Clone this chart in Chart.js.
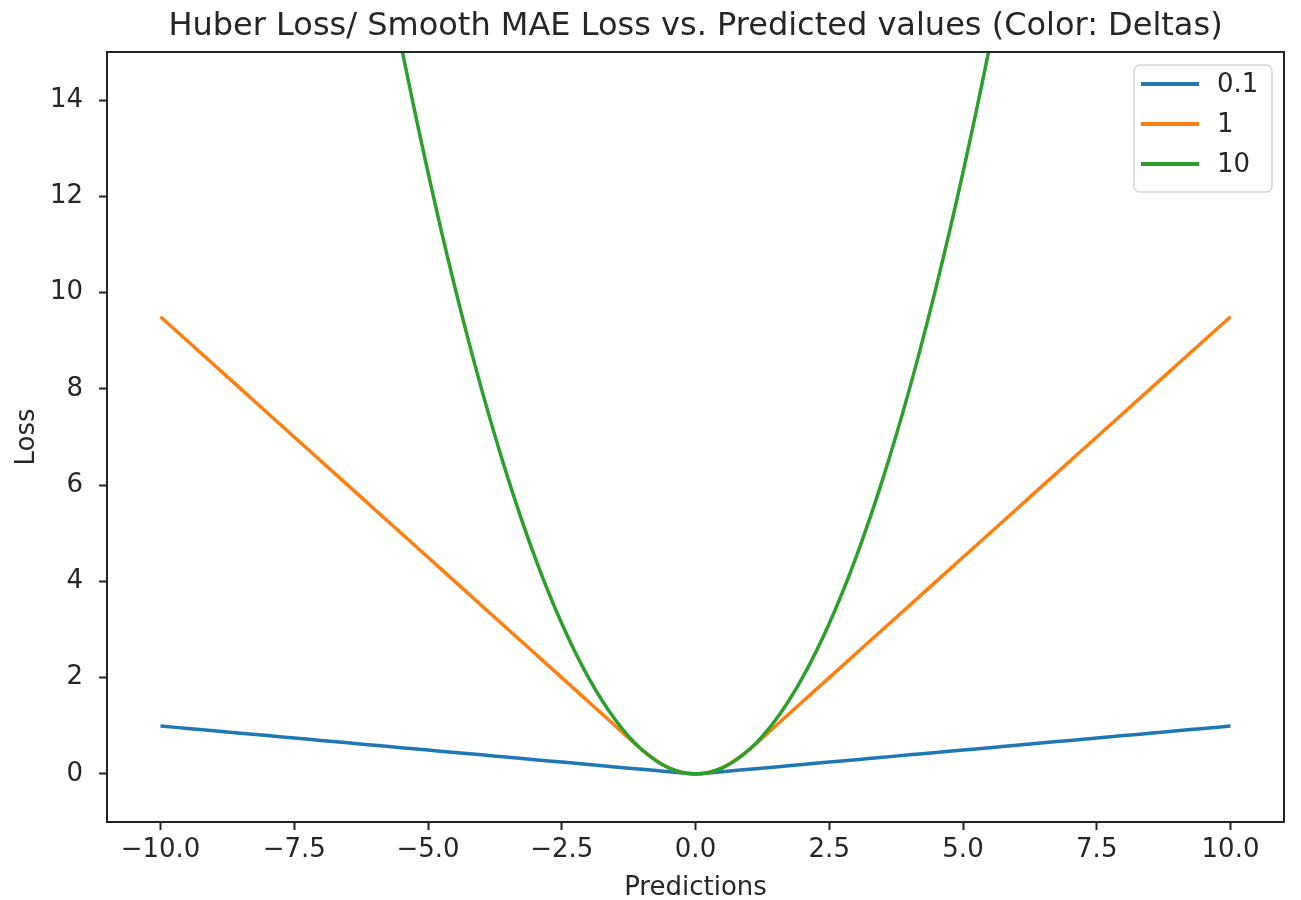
<!DOCTYPE html>
<html>
<head>
<meta charset="utf-8">
<script src="https://cdn.jsdelivr.net/npm/chart.js@4/dist/chart.umd.min.js"></script>
<style>
  html, body { margin: 0; padding: 0; background: #fff; }
  #wrap { width: 1301px; height: 900px; }
</style>
</head>
<body>
<div id="wrap"><canvas id="lossChart" width="1301" height="900"></canvas></div>
<script>
// values
const predictions = [-10, -9.5, -9, -8.5, -8, -7.5, -7, -6.5, -6, -5.5, -5, -4.5, -4, -3.5, -3, -2.5, -2, -1.5, -1, -0.5,
  0, 0.5, 1, 1.5, 2, 2.5, 3, 3.5, 4, 4.5, 5, 5.5, 6, 6.5, 7, 7.5, 8, 8.5, 9, 9.5, 10];

const deltaLabels = ['0.1', '1', '10'];
const lossDelta01 = [0.995, 0.945, 0.895, 0.845, 0.795, 0.745, 0.695, 0.645, 0.595, 0.545, 0.495, 0.445, 0.395, 0.345, 0.295, 0.245, 0.195, 0.145, 0.095, 0.045,
  0, 0.045, 0.095, 0.145, 0.195, 0.245, 0.295, 0.345, 0.395, 0.445, 0.495, 0.545, 0.595, 0.645, 0.695, 0.745, 0.795, 0.845, 0.895, 0.945, 0.995];
const lossDelta1 = [9.5, 9.0, 8.5, 8.0, 7.5, 7.0, 6.5, 6.0, 5.5, 5.0, 4.5, 4.0, 3.5, 3.0, 2.5, 2.0, 1.5, 1.0, 0.5, 0.125,
  0, 0.125, 0.5, 1.0, 1.5, 2.0, 2.5, 3.0, 3.5, 4.0, 4.5, 5.0, 5.5, 6.0, 6.5, 7.0, 7.5, 8.0, 8.5, 9.0, 9.5];
const lossDelta10 = [null, null, null, null, null, null, null, null, 18, 15.125, 12.5, 10.125, 8, 6.125, 4.5, 3.125, 2, 1.125, 0.5, 0.125,
  0, 0.125, 0.5, 1.125, 2, 3.125, 4.5, 6.125, 8, 10.125, 12.5, 15.125, 18, null, null, null, null, null, null, null, null];

const xTicks = [-10, -7.5, -5, -2.5, 0, 2.5, 5, 7.5, 10];
const yTicks = [0, 2, 4, 6, 8, 10, 12, 14];
const colors = ['#1f77b4', '#ff7f0e', '#2ca02c'];

const FONT = "'DejaVu Sans', sans-serif";
const TEXT = '#262626';

function toPoints(values) {
  return predictions.map((x, i) => ({ x: x, y: values[i] }));
}

function fmtTick(v, digits) {
  const s = Math.abs(v).toFixed(digits);
  return v < 0 ? '\u2212' + s : s;
}

// frame, title and legend drawn like matplotlib
const mplDecor = {
  id: 'mplDecor',
  afterDatasetsDraw(chart) {
    const { ctx, chartArea: a } = chart;
    ctx.save();
    ctx.strokeStyle = '#222';
    ctx.lineWidth = 2;
    ctx.strokeRect(a.left, a.top, a.right - a.left, a.bottom - a.top);

    ctx.fillStyle = TEXT;
    ctx.font = '32px ' + FONT;
    ctx.textAlign = 'center';
    ctx.textBaseline = 'alphabetic';
    ctx.fillText('Huber Loss/ Smooth MAE Loss vs. Predicted values (Color: Deltas)', (a.left + a.right) / 2, 35);

    // legend box
    const bx = 1134, by = 65, bw = 138, bh = 127, r = 6;
    ctx.beginPath();
    ctx.moveTo(bx + r, by);
    ctx.arcTo(bx + bw, by, bx + bw, by + bh, r);
    ctx.arcTo(bx + bw, by + bh, bx, by + bh, r);
    ctx.arcTo(bx, by + bh, bx, by, r);
    ctx.arcTo(bx, by, bx + bw, by, r);
    ctx.closePath();
    ctx.fillStyle = 'rgba(255,255,255,0.8)';
    ctx.fill();
    ctx.strokeStyle = '#d6d6d6';
    ctx.lineWidth = 1.5;
    ctx.stroke();

    ctx.font = '26px ' + FONT;
    ctx.textAlign = 'left';
    ctx.textBaseline = 'middle';
    chart.data.datasets.forEach((ds, i) => {
      const y = 84 + i * 40;
      ctx.strokeStyle = ds.borderColor;
      ctx.lineWidth = 4;
      ctx.beginPath();
      ctx.moveTo(1141, y);
      ctx.lineTo(1199, y);
      ctx.stroke();
      ctx.fillStyle = TEXT;
      ctx.fillText(ds.label, 1217, y + 1);
    });
    ctx.restore();
  }
};

new Chart(document.getElementById('lossChart'), {
  type: 'line',
  data: {
    datasets: [lossDelta01, lossDelta1, lossDelta10].map((vals, i) => ({
      label: deltaLabels[i],
      data: toPoints(vals),
      borderColor: colors[i],
      backgroundColor: colors[i],
      borderWidth: 3.5,
      pointRadius: 0,
      fill: false,
      order: 2 - i, // later series on top, as in matplotlib
      cubicInterpolationMode: 'monotone',
      spanGaps: false
    }))
  },
  options: {
    responsive: false,
    animation: false,
    devicePixelRatio: 1,
    layout: { padding: { top: 52, right: 17, left: 0, bottom: 0 } },
    plugins: {
      legend: { display: false },
      title: { display: false },
      tooltip: { enabled: false }
    },
    scales: {
      x: {
        type: 'linear',
        min: -11,
        max: 11,
        afterBuildTicks: (scale) => { scale.ticks = xTicks.map(v => ({ value: v })); },
        afterFit: (scale) => { scale.height = 78; },
        grid: { drawOnChartArea: false, drawTicks: true, tickLength: 8, tickWidth: 2, color: '#222' },
        border: { display: false },
        ticks: {
          color: TEXT,
          font: { family: FONT, size: 26 },
          padding: 5,
          maxRotation: 0,
          callback: (v) => fmtTick(v, 1)
        },
        title: {
          display: true,
          text: 'Predictions',
          color: TEXT,
          font: { family: FONT, size: 26 },
          padding: { top: 0, bottom: -4 }
        }
      },
      y: {
        type: 'linear',
        min: -1,
        max: 15,
        afterBuildTicks: (scale) => { scale.ticks = yTicks.map(v => ({ value: v })); },
        afterFit: (scale) => { scale.width = 107; },
        grid: { drawOnChartArea: false, drawTicks: true, tickLength: 8, tickWidth: 2, color: '#222' },
        border: { display: false },
        ticks: {
          color: TEXT,
          font: { family: FONT, size: 26 },
          padding: 16,
          callback: (v) => fmtTick(v, 0)
        },
        title: {
          display: true,
          text: 'Loss',
          color: TEXT,
          font: { family: FONT, size: 26 },
          padding: { top: 12, bottom: 0 }
        }
      }
    }
  },
  plugins: [mplDecor]
});
</script>
</body>
</html>
